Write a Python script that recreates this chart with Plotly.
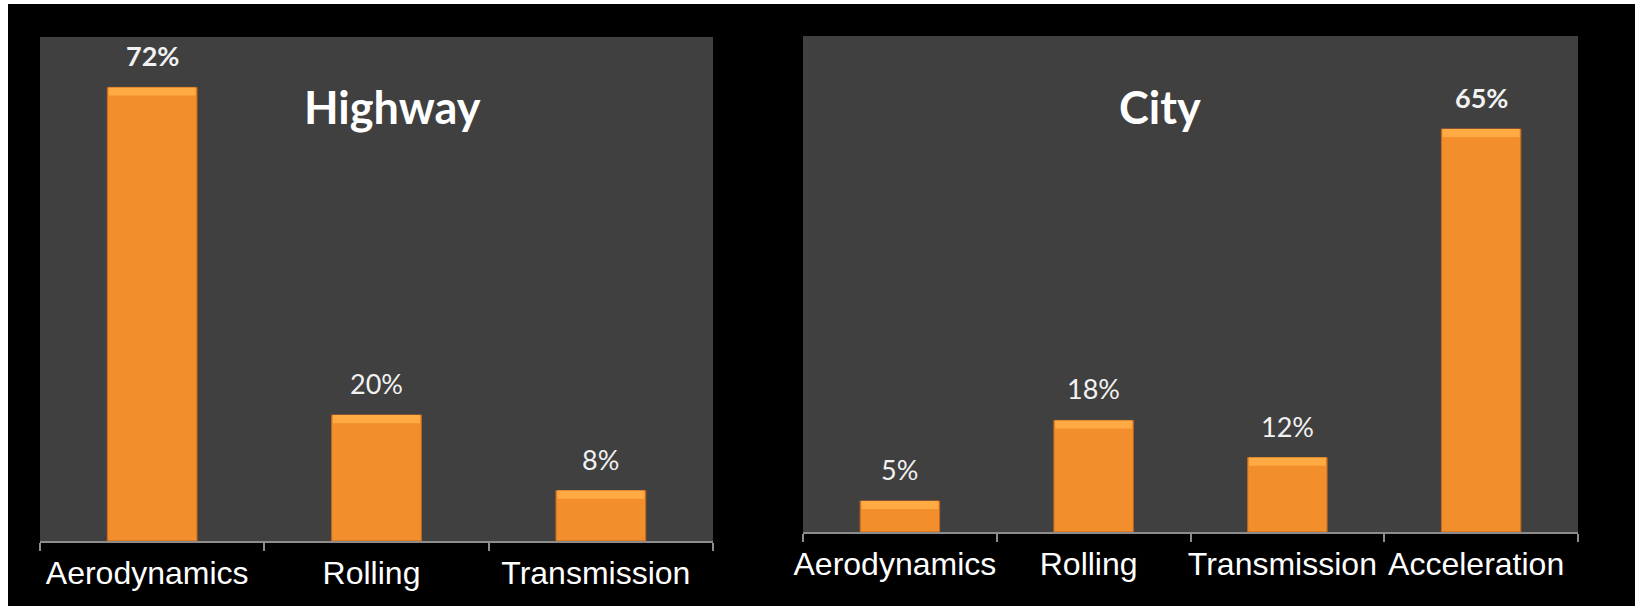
import plotly.graph_objects as go

W, H = 1635, 606

hw_cats = ["Aerodynamics", "Rolling", "Transmission"]
hw_vals = [72, 20, 8]
city_cats = ["Aerodynamics", "Rolling", "Transmission", "Acceleration"]
city_vals = [5, 18, 12, 65]

BAR = "#F28E2C"
BAR_TOP = "#FFAA42"
BAR_LINE = "#C4691F"
LABEL_FONT = "Lato"
BEVEL = 1.3  # bevel band depth in value units (styling)

fig = go.Figure()

for cats, vals, xr, yr, w in [(hw_cats, hw_vals, "x", "y", 0.4), (city_cats, city_vals, "x2", "y2", 0.41)]:
    fig.add_trace(go.Bar(x=cats, y=vals, xaxis=xr, yaxis=yr, width=w,
                         marker=dict(color=BAR, line=dict(color=BAR_LINE, width=1)),
                         hoverinfo="skip", showlegend=False))
    fig.add_trace(go.Bar(x=cats, y=[BEVEL] * len(vals), base=[v - BEVEL for v in vals],
                         xaxis=xr, yaxis=yr, width=w * 0.97,
                         marker=dict(color=BAR_TOP, line=dict(width=0)),
                         hoverinfo="skip", showlegend=False))

annotations = []
for cats, vals, xr, yr in [(hw_cats, hw_vals, "x", "y"), (city_cats, city_vals, "x2", "y2")]:
    vmax = max(vals)
    for c, v in zip(cats, vals):
        bold = v == vmax
        annotations.append(dict(
            x=c, y=v, xref=xr, yref=yr, text=f"<b>{v}%</b>" if bold else f"{v}%",
            showarrow=False, yanchor="bottom", yshift=13,
            font=dict(family=LABEL_FONT, size=27, color="#F2F2F2")))

annotations.append(dict(x=392 / W, y=1 - 107 / H, xref="paper", yref="paper", text="<b>Highway</b>",
                        showarrow=False, xanchor="center", yanchor="middle",
                        font=dict(family=LABEL_FONT, size=45, color="white")))
annotations.append(dict(x=1160 / W, y=1 - 107 / H, xref="paper", yref="paper", text="<b>City</b>",
                        showarrow=False, xanchor="center", yanchor="middle",
                        font=dict(family=LABEL_FONT, size=45, color="white")))

xaxis_common = dict(type="category", showgrid=False, zeroline=False, showline=True,
                    linecolor="#8C8C8C", linewidth=2, ticks="outside", ticklen=8, tickwidth=2,
                    tickcolor="#8C8C8C", tickson="boundaries", automargin=False, fixedrange=True,
                    tickangle=0, ticklabelstandoff=3, ticklabelshift=-5,
                    tickfont=dict(family="Liberation Sans, Arial", size=32, color="white"))
yaxis_common = dict(range=[0, 80], visible=False, showgrid=False, zeroline=False, fixedrange=True)

fig.update_layout(
    width=W, height=H,
    margin=dict(l=0, r=0, t=0, b=0),
    paper_bgcolor="black",
    plot_bgcolor="#404040",
    barmode="overlay",
    xaxis=dict(domain=[40 / W, 713 / W], anchor="y", **xaxis_common),
    yaxis=dict(domain=[1 - 541 / H, 1 - 37 / H], anchor="x", **yaxis_common),
    xaxis2=dict(domain=[803 / W, 1578 / W], anchor="y2", **xaxis_common),
    yaxis2=dict(domain=[1 - 532 / H, 1 - 36 / H], anchor="x2", **yaxis_common),
    annotations=annotations,
    shapes=[
        dict(type="rect", xref="paper", yref="paper", x0=0, x1=8 / W, y0=0, y1=1,
             fillcolor="white", line=dict(width=0), layer="below"),
        dict(type="rect", xref="paper", yref="paper", x0=0, x1=1, y0=1 - 4 / H, y1=1,
             fillcolor="white", line=dict(width=0), layer="below"),
    ],
)

fig.write_html("out.html")
